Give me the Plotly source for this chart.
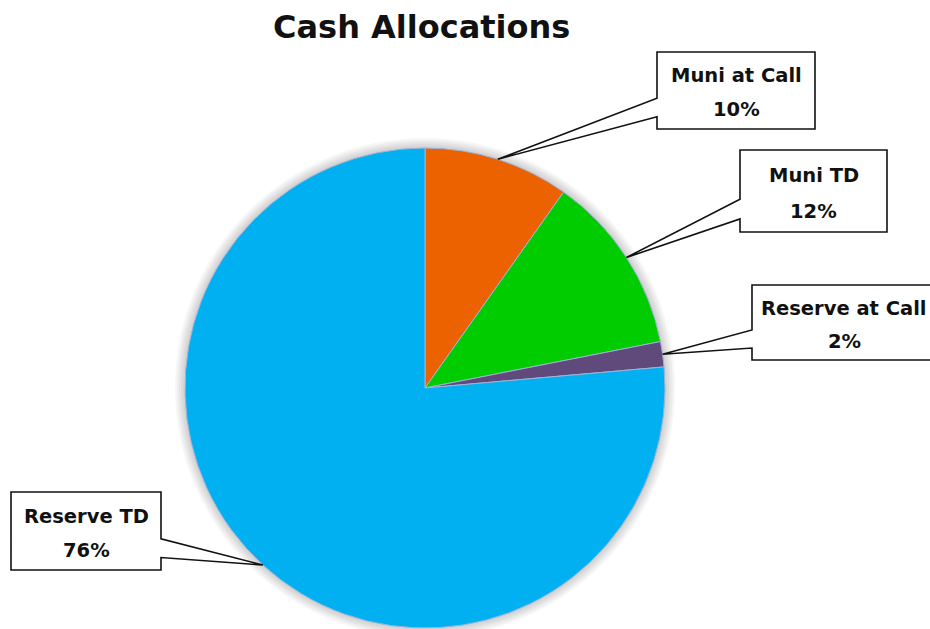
import math
import plotly.graph_objects as go

# ---- data ----
categories = ["Muni at Call", "Muni TD", "Reserve at Call", "Reserve TD"]
values = [9.8, 12.1, 1.7, 76.4]
colors = ["#EC6100", "#00CC00", "#604A7B", "#00B0F0"]
title_text = "Cash Allocations"

# ---- layout constants (pixels, in page coordinates) ----
W, H = 930, 629
CX, CY, R = 425, 388, 240
FONT = "DejaVu Sans"

# label boxes: x0, y0, x1, y1, side of the pointer
boxes = [
    (657, 52, 815, 129, "left"),
    (740, 150, 887, 232, "left"),
    (752, 285, 936, 360, "left"),
    (11, 492, 161, 570, "right"),
]


def px(x, y):
    return x / W, 1 - y / H


fig = go.Figure()

# soft shadow around the pie (decoration)
for extra in [10, 8, 6, 4, 2]:
    r = R + extra
    x0, y0 = px(CX - r, CY + r)
    x1, y1 = px(CX + r, CY - r)
    fig.add_shape(type="circle", xref="paper", yref="paper", x0=x0, y0=y0, x1=x1, y1=y1,
                  fillcolor="rgba(0,0,0,0.035)", line=dict(width=0), layer="below")

total = sum(values)
dx0, dy0 = px(CX - R, CY + R)
dx1, dy1 = px(CX + R, CY - R)
fig.add_trace(go.Pie(
    labels=categories, values=values, sort=False, direction="clockwise", rotation=0,
    marker=dict(colors=colors, line=dict(color="#9FB2DA", width=1)),
    textinfo="none", showlegend=False,
    domain=dict(x=[max(0, dx0), min(1, dx1)], y=[max(0, dy0), min(1, dy1)]),
))

# callouts
cum = 0.0
for cat, v, (x0, y0, x1, y1, side) in zip(categories, values, boxes):
    mid = (cum + v / 2) / total
    cum += v
    ang = 2 * math.pi * mid
    tx = CX + R * math.sin(ang)
    ty = CY - R * math.cos(ang)
    h = y1 - y0
    ya1 = y0 + 0.6 * h
    ya2 = y0 + 0.84 * h
    if side == "left":
        pts = [(x0, y0), (x1, y0), (x1, y1), (x0, y1), (x0, ya2), (tx, ty), (x0, ya1)]
    else:
        pts = [(x0, y0), (x1, y0), (x1, ya1), (tx, ty), (x1, ya2), (x1, y1), (x0, y1)]
    path = "M " + " L ".join(f"{px(a, b)[0]:.5f},{px(a, b)[1]:.5f}" for a, b in pts) + " Z"
    fig.add_shape(type="path", path=path, xref="paper", yref="paper",
                  line=dict(color="#111111", width=1.6), fillcolor="white", layer="above")
    xc = (x0 + x1) / 2
    pct = f"{round(v / total * 100)}%"
    for txt, frac in [(cat, 0.31), (pct, 0.75)]:
        ax, ay = px(xc, y0 + frac * h)
        fig.add_annotation(x=ax, y=ay, xref="paper", yref="paper", text=f"<b>{txt}</b>",
                           showarrow=False, xanchor="center", yanchor="middle",
                           font=dict(family=FONT, size=19.5, color="#111111"))

tx_, ty_ = px(421, 27)
fig.add_annotation(x=tx_, y=ty_, xref="paper", yref="paper", text=f"<b>{title_text}</b>",
                   showarrow=False, xanchor="center", yanchor="middle",
                   font=dict(family=FONT, size=32, color="#111111"))

fig.update_layout(width=W, height=H, margin=dict(l=0, r=0, t=0, b=0),
                  paper_bgcolor="white", plot_bgcolor="white", showlegend=False)

fig.write_html("out.html", config={"displayModeBar": False},
               post_script="document.body.style.margin='0';document.body.style.overflow='hidden';")
